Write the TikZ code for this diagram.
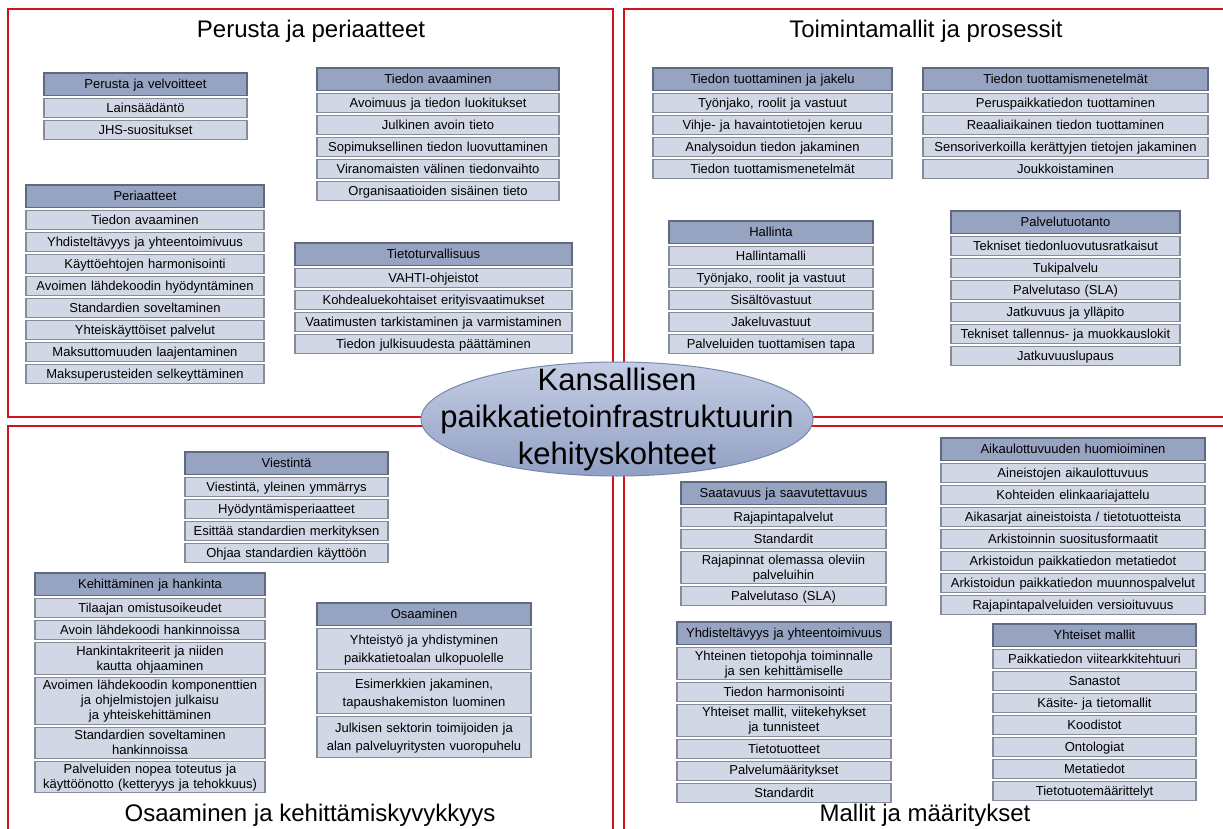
\documentclass[tikz,border=0pt]{standalone}
\usepackage{fontspec}
\setmainfont{Liberation Sans}
\usetikzlibrary{matrix,positioning,shapes.geometric}
\definecolor{headfill}{RGB}{150,164,194}
\definecolor{headline}{RGB}{95,106,128}
\definecolor{itemfill}{RGB}{210,215,229}
\definecolor{itemline}{RGB}{135,140,155}
\definecolor{framered}{RGB}{205,20,30}
\definecolor{ovaltop}{RGB}{196,205,228}
\definecolor{ovalbot}{RGB}{145,160,195}
\definecolor{ovalline}{RGB}{120,136,172}
\newcommand{\cellstrut}{\rule[-2pt]{0pt}{13pt}}
\tikzset{listitem/.style={rectangle,fill=itemfill,draw=itemline,line width=1.2pt,inner xsep=1pt,inner ysep=1.5pt,minimum height=19pt,align=center,font=\fontsize{13}{15}\selectfont,execute at begin node=\cellstrut,execute at end node=\cellstrut},
         listhead/.style={listitem,fill=headfill,draw=headline,line width=1.6pt,minimum height=22.5pt},
         tall/.style={minimum height=41pt,font=\fontsize{13}{18}\selectfont},
         listbox/.style={matrix of nodes,row sep=1.8pt,inner sep=0pt,anchor=north west,nodes={listitem,text width=#1},row 1/.style={nodes={listhead}}},
         quadrant/.style={draw=framered,line width=2pt},
         title/.style={font=\fontsize{24}{28}\selectfont},
         oval/.style={ellipse,draw=ovalline,line width=1pt,top color=ovaltop,bottom color=ovalbot,minimum width=392pt,minimum height=114pt,inner xsep=-40pt,inner ysep=-20pt,align=center,font=\fontsize{31}{37}\selectfont}
}
\begin{document}
\begin{tikzpicture}[x=1pt,y=-1pt]
\useasboundingbox (0,0) rectangle (1223,829);
\draw[quadrant] (8,9) rectangle (613,417);
\draw[quadrant] (624,9) rectangle (1240,417);
\draw[quadrant] (8,426) rectangle (613,845);
\draw[quadrant] (624,426) rectangle (1240,845);
\node[title] (tpp) at (311,31) {Perusta ja periaatteet};
\node[title] (ttp) at (926,31) {Toimintamallit ja prosessit};
\node[title] (tok) at (310,815) {Osaaminen ja kehittämiskyvykkyys};
\node[title] (tmm) at (925,815) {Mallit ja määritykset};
% Perusta ja periaatteet
\matrix (pv) [listbox=201pt] at (43,72) {
    Perusta ja velvoitteet\\
    Lainsäädäntö\\
    JHS-suositukset\\
};
\matrix (per) [listbox=236pt] at (25,184) {
    Periaatteet\\
    Tiedon avaaminen\\
    Yhdisteltävyys ja yhteentoimivuus\\
    Käyttöehtojen harmonisointi\\
    Avoimen lähdekoodin hyödyntäminen\\
    Standardien soveltaminen\\
    Yhteiskäyttöiset palvelut\\
    Maksuttomuuden laajentaminen\\
    Maksuperusteiden selkeyttäminen\\
};
\matrix (ta) [listbox=240pt] at (316,67) {
    Tiedon avaaminen\\
    Avoimuus ja tiedon luokitukset\\
    Julkinen avoin tieto\\
    Sopimuksellinen tiedon luovuttaminen\\
    Viranomaisten välinen tiedonvaihto\\
    Organisaatioiden sisäinen tieto\\
};
\matrix (tt) [listbox=275pt] at (294,242) {
    Tietoturvallisuus\\
    VAHTI-ohjeistot\\
    Kohdealuekohtaiset erityisvaatimukset\\
    Vaatimusten tarkistaminen ja varmistaminen\\
    Tiedon julkisuudesta päättäminen\\
};
% Toimintamallit ja prosessit
\matrix (tj) [listbox=237pt] at (652,67) {
    Tiedon tuottaminen ja jakelu\\
    Työnjako, roolit ja vastuut\\
    Vihje- ja havaintotietojen keruu\\
    Analysoidun tiedon jakaminen\\
    Tiedon tuottamismenetelmät\\
};
\matrix (tm) [listbox=283pt] at (922,67) {
    Tiedon tuottamismenetelmät\\
    Peruspaikkatiedon tuottaminen\\
    Reaaliaikainen tiedon tuottaminen\\
    Sensoriverkoilla kerättyjen tietojen jakaminen\\
    Joukkoistaminen\\
};
\matrix (hal) [listbox=202pt] at (668,220) {
    Hallinta\\
    Hallintamalli\\
    Työnjako, roolit ja vastuut\\
    Sisältövastuut\\
    Jakeluvastuut\\
    Palveluiden tuottamisen tapa\\
};
\matrix (pt) [listbox=227pt] at (950,210) {
    Palvelutuotanto\\
    Tekniset tiedonluovutusratkaisut\\
    Tukipalvelu\\
    Palvelutaso (SLA)\\
    Jatkuvuus ja ylläpito\\
    Tekniset tallennus- ja muokkauslokit\\
    Jatkuvuuslupaus\\
};
% Osaaminen ja kehittämiskyvykkyys
\matrix (vi) [listbox=201pt] at (184,451) {
    Viestintä\\
    Viestintä, yleinen ymmärrys\\
    Hyödyntämisperiaatteet\\
    Esittää standardien merkityksen\\
    Ohjaa standardien käyttöön\\
};
\matrix (kh) [listbox=228pt] at (34,572) {
    Kehittäminen ja hankinta\\
    Tilaajan omistusoikeudet\\
    Avoin lähdekoodi hankinnoissa\\
    {Hankintakriteerit ja niiden\\kautta ohjaaminen}\\
    {Avoimen lähdekoodin komponenttien\\ja ohjelmistojen julkaisu\\ja yhteiskehittäminen}\\
    {Standardien soveltaminen\\hankinnoissa}\\
    {Palveluiden nopea toteutus ja\\käyttöönotto (ketteryys ja tehokkuus)}\\
};
\matrix (os) [listbox=212pt] at (316,602) {
    Osaaminen\\
    |[tall]| {Yhteistyö ja yhdistyminen\\paikkatietoalan ulkopuolelle}\\
    |[tall]| {Esimerkkien jakaminen,\\tapaushakemiston luominen}\\
    |[tall]| {Julkisen sektorin toimijoiden ja\\alan palveluyritysten vuoropuhelu}\\
};
% Mallit ja määritykset
\matrix (ai) [listbox=262pt] at (940,437) {
    Aikaulottuvuuden huomioiminen\\
    Aineistojen aikaulottuvuus\\
    Kohteiden elinkaariajattelu\\
    Aikasarjat aineistoista / tietotuotteista\\
    Arkistoinnin suositusformaatit\\
    Arkistoidun paikkatiedon metatiedot\\
    Arkistoidun paikkatiedon muunnospalvelut\\
    Rajapintapalveluiden versioituvuus\\
};
\matrix (sa) [listbox=203pt] at (680,481) {
    Saatavuus ja saavutettavuus\\
    Rajapintapalvelut\\
    Standardit\\
    {Rajapinnat olemassa oleviin\\palveluihin}\\
    Palvelutaso (SLA)\\
};
\matrix (yy) [listbox=212pt] at (676,621) {
    Yhdisteltävyys ja yhteentoimivuus\\
    {Yhteinen tietopohja toiminnalle\\ja sen kehittämiselle}\\
    Tiedon harmonisointi\\
    {Yhteiset mallit, viitekehykset\\ja tunnisteet}\\
    Tietotuotteet\\
    Palvelumääritykset\\
    Standardit\\
};
\matrix (ym) [listbox=201pt] at (992,623) {
    Yhteiset mallit\\
    Paikkatiedon viitearkkitehtuuri\\
    Sanastot\\
    Käsite- ja tietomallit\\
    Koodistot\\
    Ontologiat\\
    Metatiedot\\
    Tietotuotemäärittelyt\\
};
\node[oval] (core) at (617,419) {Kansallisen\\paikkatietoinfrastruktuurin\\kehityskohteet};
\end{tikzpicture}
\end{document}
